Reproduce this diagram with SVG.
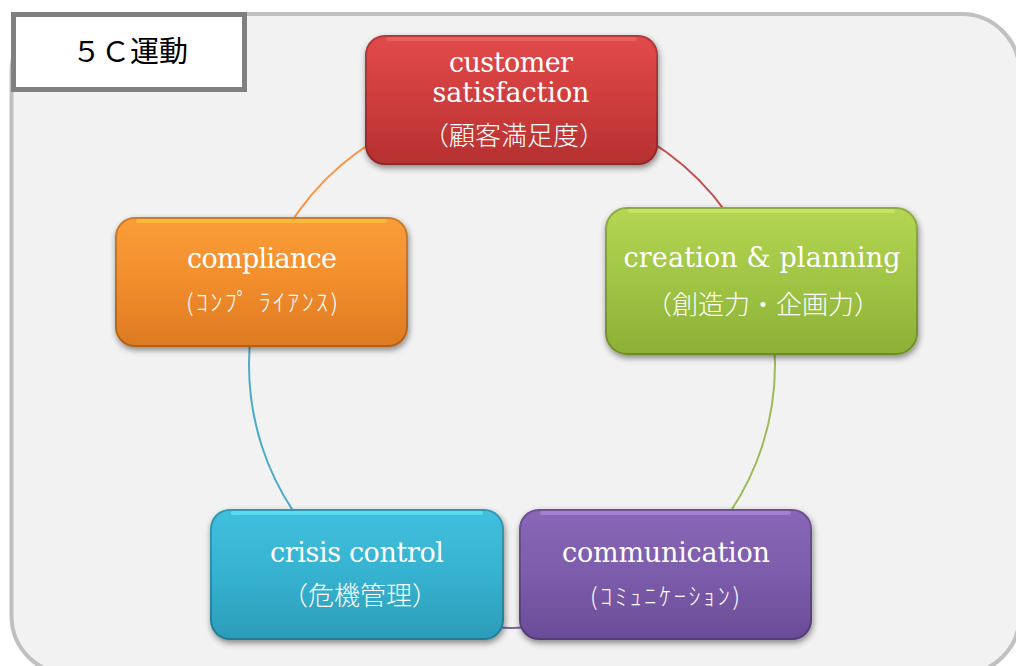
<svg xmlns="http://www.w3.org/2000/svg" width="1016" height="666" viewBox="0 0 1016 666">
<style>
.en{font-family:"DejaVu Serif","Liberation Serif",serif;font-size:27px;fill:#ffffff;text-anchor:middle}
.jp{font-family:"DejaVu Serif","Noto Sans CJK JP",sans-serif;font-size:26px;fill:#ffffff;text-anchor:middle;font-weight:300}
.kana{font-family:"Noto Sans CJK JP",sans-serif;font-size:24px;fill:#ffffff;text-anchor:middle;font-weight:300}
.arc{fill:none;stroke-width:2}
.node{filter:url(#shadow)}
.edge{fill:none;stroke:#000;stroke-opacity:0.2;stroke-width:2}
.hl{fill:none;stroke-width:4;stroke-opacity:0.55;stroke-linecap:round}
</style>
<defs>
<filter id="shadow" x="-10%" y="-15%" width="120%" height="135%">
<feDropShadow dx="1" dy="3" stdDeviation="3" flood-color="#000" flood-opacity="0.45"/>
</filter>
<linearGradient id="gRed" x1="0" y1="0" x2="0" y2="1">
<stop offset="0" stop-color="#e24a4a"/><stop offset="0.5" stop-color="#cf3d3d"/><stop offset="1" stop-color="#b53030"/>
</linearGradient>
<linearGradient id="gGreen" x1="0" y1="0" x2="0" y2="1">
<stop offset="0" stop-color="#b4d653"/><stop offset="0.5" stop-color="#a0c444"/><stop offset="1" stop-color="#8cb036"/>
</linearGradient>
<linearGradient id="gOrange" x1="0" y1="0" x2="0" y2="1">
<stop offset="0" stop-color="#fa9e38"/><stop offset="0.5" stop-color="#f28d2c"/><stop offset="1" stop-color="#dc7a22"/>
</linearGradient>
<linearGradient id="gBlue" x1="0" y1="0" x2="0" y2="1">
<stop offset="0" stop-color="#40c0de"/><stop offset="0.5" stop-color="#36b2d0"/><stop offset="1" stop-color="#2b9cb8"/>
</linearGradient>
<linearGradient id="gPurple" x1="0" y1="0" x2="0" y2="1">
<stop offset="0" stop-color="#8a67b8"/><stop offset="0.5" stop-color="#7c5cab"/><stop offset="1" stop-color="#6a4c96"/>
</linearGradient>
</defs>

<rect x="11.5" y="14" width="1008" height="660" rx="58" fill="#f2f2f2" stroke="#c0c0c0" stroke-width="4"/>

<g id="title">
<rect x="13.5" y="14.5" width="231" height="75" fill="#ffffff" stroke="#808080" stroke-width="5"/>
<text x="130" y="62" style="font-family:'Noto Sans CJK JP',sans-serif;font-size:29px;fill:#000;text-anchor:middle">５Ｃ運動</text>
</g>

<g id="connectors">
<path class="arc" stroke="#c0504d" d="M512 102 A263 263 0 0 1 762.1 283.7"/>
<path class="arc" stroke="#9bbb59" d="M762.1 283.7 A263 263 0 0 1 666.6 577.8"/>
<path class="arc" stroke="#8064a2" d="M666.6 577.8 A263 263 0 0 1 357.4 577.8"/>
<path class="arc" stroke="#4bacc6" d="M357.4 577.8 A263 263 0 0 1 261.9 283.7"/>
<path class="arc" stroke="#f79646" d="M261.9 283.7 A263 263 0 0 1 512 102"/>
</g>

<g id="customer-satisfaction">
<rect class="node" x="365" y="35" width="293" height="130" rx="20" fill="url(#gRed)"/>
<rect class="edge" x="366" y="36" width="291" height="128" rx="19"/>
<path class="hl" stroke="#f07070" d="M388 39 H635"/>
<text class="en" x="511" y="72" textLength="124">customer</text>
<text class="en" x="511" y="102" textLength="157">satisfaction</text>
<text class="jp" x="514" y="145">（顧客満足度）</text>
</g>

<g id="creation-planning">
<rect class="node" x="605" y="207" width="313" height="148" rx="22" fill="url(#gGreen)"/>
<rect class="edge" x="606" y="208" width="311" height="146" rx="21"/>
<path class="hl" stroke="#d4f070" d="M630 211 H893"/>
<text class="en" x="762" y="267" textLength="277">creation &amp; planning</text>
<text class="jp" x="763" y="314">（創造力・企画力）</text>
</g>

<g id="compliance">
<rect class="node" x="115" y="217" width="293" height="130" rx="20" fill="url(#gOrange)"/>
<rect class="edge" x="116" y="218" width="291" height="128" rx="19"/>
<path class="hl" stroke="#f8d040" d="M138 221 H385"/>
<text class="en" x="262" y="268" textLength="150">compliance</text>
<text class="kana" x="262" y="311" textLength="152">(ｺﾝﾌﾟ ﾗｲｱﾝｽ)</text>
</g>

<g id="crisis-control">
<rect class="node" x="210" y="509" width="294" height="131" rx="20" fill="url(#gBlue)"/>
<rect class="edge" x="211" y="510" width="292" height="129" rx="19"/>
<path class="hl" stroke="#70f0ff" d="M233 513 H481"/>
<text class="en" x="357" y="562" textLength="174">crisis control</text>
<text class="jp" x="360" y="605">（危機管理）</text>
</g>

<g id="communication">
<rect class="node" x="519" y="509" width="293" height="131" rx="20" fill="url(#gPurple)"/>
<rect class="edge" x="520" y="510" width="291" height="129" rx="19"/>
<path class="hl" stroke="#b898e6" d="M542 513 H789"/>
<text class="en" x="666" y="562" textLength="208">communication</text>
<text class="kana" x="665" y="605" textLength="150">(ｺﾐｭﾆｹｰｼｮﾝ)</text>
</g>
</svg>
